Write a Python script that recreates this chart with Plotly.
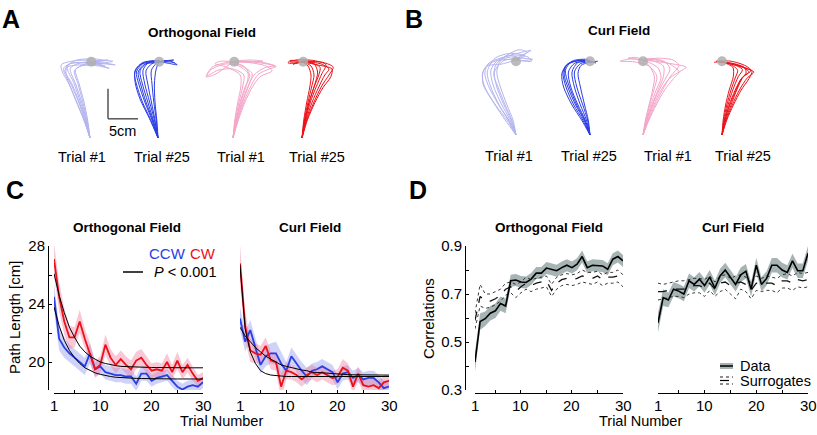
import plotly.graph_objects as go

W, H = 817, 435
FONT = "Arial, Liberation Sans, sans-serif"

# ---------------- data ----------------
TRIALS = list(range(1, 31))
X_TICKS = [1, 5, 10, 15, 20, 25, 30]
X_TICKTEXT = ["1", "", "10", "", "20", "", "30"]
C_YTICKS = [20, 22, 24, 26, 28]
C_YTICKTEXT = ["20", "", "24", "", "28"]
D_YTICKS = [0.3, 0.4, 0.5, 0.6, 0.7, 0.8, 0.9]
D_YTICKTEXT = ["0.3", "", "0.5", "", "0.7", "", "0.9"]

# Panel C: path length [cm]
C_ORTH_CW = [27.1, 24.5, 22.8, 21.7, 21.7, 22.8, 21.6, 20.6, 19.5, 19.8, 21.2, 20.3, 19.8, 20.2, 19.8,
             19.5, 20.1, 20.3, 19.8, 19.4, 19.5, 19.4, 20.0, 19.3, 20.1, 19.3, 19.8, 19.2, 18.7, 18.9]
C_ORTH_CW_SEM = [1.1, 1.0, 0.9, 0.8, 0.7, 0.8, 0.7, 0.7, 0.6, 0.6, 0.7, 0.6, 0.6, 0.6, 0.6,
                 0.6, 0.6, 0.6, 0.6, 0.5, 0.5, 0.5, 0.6, 0.5, 0.6, 0.5, 0.5, 0.5, 0.4, 0.4]
C_ORTH_CCW = [24.5, 21.6, 21.0, 20.6, 20.3, 20.0, 19.7, 20.6, 19.5, 19.7, 19.3, 19.2, 19.1, 19.1, 19.0,
              19.0, 18.5, 19.2, 19.2, 18.7, 18.9, 19.0, 19.1, 18.7, 18.3, 18.1, 18.3, 18.4, 18.3, 18.6]
C_ORTH_CCW_SEM = [0.9, 0.8, 0.7, 0.6, 0.6, 0.6, 0.6, 0.7, 0.5, 0.5, 0.5, 0.5, 0.5, 0.5, 0.5,
                  0.5, 0.5, 0.5, 0.5, 0.4, 0.4, 0.4, 0.4, 0.4, 0.4, 0.4, 0.4, 0.4, 0.4, 0.4]
C_ORTH_CW_FIT = [26.1, 24.6, 23.4, 22.4, 21.7, 21.1, 20.7, 20.4, 20.2, 20.0, 19.9, 19.8, 19.75, 19.7, 19.68,
                 19.66, 19.65, 19.64, 19.63, 19.62, 19.62, 19.61, 19.61, 19.61, 19.6, 19.6, 19.6, 19.6, 19.6, 19.6]
C_ORTH_CCW_FIT = [23.8, 22.5, 21.5, 20.8, 20.3, 19.9, 19.6, 19.4, 19.25, 19.15, 19.05, 19.0, 18.95, 18.92, 18.9,
                  18.88, 18.87, 18.86, 18.85, 18.85, 18.84, 18.84, 18.84, 18.83, 18.83, 18.83, 18.83, 18.83, 18.83, 18.83]

C_CURL_CW = [26.8, 22.5, 20.8, 20.6, 20.5, 21.1, 20.1, 20.0, 18.3, 19.4, 19.3, 19.1, 18.8, 19.1, 19.3,
             19.1, 19.3, 19.1, 18.9, 19.0, 19.6, 19.4, 18.3, 19.2, 18.4, 18.3, 18.4, 18.2, 18.6, 18.7]
C_CURL_CW_SEM = [1.3, 1.0, 0.8, 0.7, 0.6, 0.6, 0.6, 0.6, 0.9, 0.6, 0.5, 0.5, 0.5, 0.5, 0.5,
                 0.5, 0.5, 0.5, 0.5, 0.5, 0.6, 0.5, 0.5, 0.5, 0.5, 0.5, 0.5, 0.5, 0.5, 0.4]
C_CURL_CCW = [23.0, 21.4, 22.2, 21.0, 19.8, 20.4, 20.6, 20.6, 19.9, 19.4, 20.4, 19.9, 19.4, 19.0, 19.4,
              19.5, 19.7, 19.5, 19.3, 18.6, 19.2, 19.3, 18.9, 19.1, 18.8, 18.9, 18.9, 18.6, 18.2, 18.3]
C_CURL_CCW_SEM = [0.8, 0.7, 0.7, 0.7, 0.6, 0.7, 0.7, 0.8, 0.8, 0.6, 0.6, 0.6, 0.6, 0.6, 0.5,
                  0.5, 0.5, 0.5, 0.5, 0.5, 0.5, 0.5, 0.5, 0.5, 0.5, 0.5, 0.5, 0.5, 0.5, 0.5]
C_CURL_CW_FIT = [26.7, 22.3, 20.7, 19.9, 19.4, 19.2, 19.1, 19.05, 19.02, 19.0, 19.0, 19.0, 19.0, 19.0, 19.0,
                 19.0, 19.0, 19.0, 19.0, 19.0, 19.0, 19.0, 19.0, 19.0, 19.0, 19.0, 19.0, 19.0, 19.0, 19.0]
C_CURL_CCW_FIT = [22.4, 21.8, 21.4, 21.0, 20.7, 20.4, 20.2, 20.0, 19.8, 19.7, 19.6, 19.5, 19.45, 19.4, 19.3,
                  19.28, 19.25, 19.22, 19.2, 19.15, 19.14, 19.13, 19.12, 19.11, 19.1, 19.1, 19.1, 19.1, 19.1, 19.1]

# Panel D: correlations
D_ORTH = [0.417, 0.585, 0.597, 0.62, 0.63, 0.66, 0.65, 0.755, 0.758, 0.75, 0.748, 0.762, 0.787, 0.787, 0.808,
          0.803, 0.797, 0.81, 0.82, 0.81, 0.824, 0.856, 0.81, 0.82, 0.82, 0.817, 0.803, 0.845, 0.856, 0.838]
D_ORTH_SEM = [0.04, 0.035, 0.03, 0.03, 0.03, 0.03, 0.03, 0.025, 0.025, 0.025, 0.025, 0.025, 0.025, 0.025, 0.025,
              0.025, 0.025, 0.025, 0.025, 0.025, 0.025, 0.025, 0.025, 0.025, 0.025, 0.025, 0.025, 0.025, 0.025, 0.025]
D_ORTH_SUR_HI = [0.62, 0.74, 0.70, 0.70, 0.71, 0.72, 0.745, 0.75, 0.74, 0.75, 0.77, 0.76, 0.765, 0.77, 0.775,
                 0.74, 0.77, 0.78, 0.785, 0.78, 0.785, 0.80, 0.79, 0.79, 0.795, 0.78, 0.79, 0.79, 0.80, 0.78]
D_ORTH_SUR_MID = [0.59, 0.69, 0.67, 0.67, 0.68, 0.695, 0.72, 0.73, 0.71, 0.73, 0.745, 0.735, 0.745, 0.75, 0.755,
                  0.715, 0.745, 0.76, 0.765, 0.76, 0.765, 0.775, 0.77, 0.765, 0.775, 0.76, 0.77, 0.77, 0.775, 0.755]
D_ORTH_SUR_LO = [0.555, 0.65, 0.64, 0.645, 0.655, 0.67, 0.695, 0.705, 0.685, 0.705, 0.72, 0.71, 0.72, 0.725, 0.73,
                 0.69, 0.72, 0.735, 0.74, 0.735, 0.74, 0.75, 0.745, 0.74, 0.75, 0.735, 0.745, 0.745, 0.75, 0.73]

D_CURL = [0.58, 0.685, 0.675, 0.72, 0.712, 0.70, 0.755, 0.74, 0.762, 0.735, 0.77, 0.725, 0.775, 0.80, 0.77,
          0.74, 0.78, 0.795, 0.72, 0.82, 0.74, 0.765, 0.82, 0.82, 0.80, 0.79, 0.838, 0.797, 0.797, 0.87]
D_CURL_SEM = [0.04, 0.035, 0.03, 0.03, 0.03, 0.03, 0.03, 0.03, 0.03, 0.03, 0.03, 0.03, 0.03, 0.03, 0.03,
              0.03, 0.03, 0.03, 0.03, 0.03, 0.03, 0.03, 0.03, 0.03, 0.03, 0.03, 0.03, 0.03, 0.03, 0.03]
D_CURL_SUR_HI = [0.745, 0.74, 0.745, 0.75, 0.755, 0.755, 0.76, 0.765, 0.765, 0.76, 0.775, 0.75, 0.775, 0.78, 0.765,
                 0.775, 0.78, 0.77, 0.745, 0.775, 0.765, 0.775, 0.77, 0.765, 0.78, 0.785, 0.775, 0.79, 0.785, 0.79]
D_CURL_SUR_MID = [0.71, 0.71, 0.715, 0.72, 0.72, 0.72, 0.73, 0.735, 0.735, 0.725, 0.745, 0.72, 0.745, 0.75, 0.735,
                  0.745, 0.75, 0.74, 0.715, 0.745, 0.74, 0.745, 0.745, 0.735, 0.755, 0.755, 0.745, 0.76, 0.755, 0.76]
D_CURL_SUR_LO = [0.675, 0.68, 0.685, 0.69, 0.69, 0.685, 0.70, 0.705, 0.705, 0.69, 0.715, 0.69, 0.71, 0.72, 0.70,
                 0.68, 0.72, 0.71, 0.68, 0.715, 0.71, 0.715, 0.715, 0.705, 0.725, 0.725, 0.715, 0.73, 0.725, 0.73]

# Panels A/B: hand trajectories in cm (start at origin)
A_CCW_T1 = [
    [(0, 0), (-0.8, 3), (-1.8, 6), (-3, 9), (-4.2, 11.3), (-3.5, 12.3), (-1, 12.6), (2, 12.4), (4.2, 12.2), (1.5, 12.6), (0, 12.7)],
    [(0, 0), (-0.6, 3), (-1.4, 6), (-2.4, 9), (-3.3, 11.6), (-2, 12.4), (0.5, 12.8), (3, 13.0), (0.8, 12.8), (0, 12.7)],
    [(0, 0), (-1, 3), (-2.2, 6), (-3.5, 9), (-4.6, 11), (-4.8, 12.2), (-3, 12.8), (0, 12.9), (0, 12.7)],
    [(0, 0), (-0.5, 3), (-1.2, 6), (-2, 9), (-2.6, 11.2), (-1.5, 12), (1, 12.3), (3.8, 12.8), (2, 12.9), (0, 12.7)],
    [(0, 0), (-0.9, 3), (-1.9, 6), (-3.1, 8.8), (-4, 10.8), (-3.8, 11.8), (-1.5, 12.2), (1.5, 12.0), (3.2, 11.6), (1, 12.4), (0, 12.7)],
    [(0, 0), (-0.7, 3), (-1.6, 6), (-2.7, 9.2), (-3.8, 11.8), (-2.5, 12.9), (0.5, 13.2), (2.5, 12.9), (0, 12.7)],
    [(0, 0), (-1.1, 3.2), (-2.4, 6.3), (-3.6, 9.4), (-4.4, 11.6), (-3, 12.5), (0, 12.4), (2.5, 12.0), (0.5, 12.6), (0, 12.7)],
    [(0, 0), (-0.4, 3), (-1, 6), (-1.8, 9), (-2.4, 11.4), (-0.8, 12.3), (1.5, 12.6), (0, 12.7)],
]
A_CCW_T25 = [
    [(0, 0), (-1, 3), (-2.2, 6), (-3.2, 9), (-3.6, 11), (-2.5, 12.4), (0.3, 12.8)],
    [(0, 0), (-0.8, 3), (-1.7, 6), (-2.6, 9), (-3, 11.2), (-1.8, 12.5), (0.3, 12.7)],
    [(0, 0), (-0.5, 3), (-1.1, 6), (-1.7, 9), (-2, 11.2), (-1, 12.4), (0.3, 12.7), (2.5, 12.6), (3.2, 12.2), (1.5, 12.5), (0.3, 12.7)],
    [(0, 0), (-1.2, 3), (-2.6, 6), (-3.6, 9), (-3.9, 10.8), (-3, 12.2), (-0.5, 12.9), (0.3, 12.7)],
    [(0, 0), (-0.3, 3), (-0.7, 6), (-1, 9), (-1.1, 11.3), (-0.2, 12.5), (0.3, 12.7)],
    [(0, 0), (-0.9, 3), (-2, 6), (-2.9, 9), (-3.3, 11), (-2.2, 12.3), (0, 12.6), (2.6, 13), (0.5, 12.8)],
    [(0, 0), (-0.6, 3), (-1.4, 6), (-2.2, 9), (-2.5, 11.3), (-1.5, 12.6), (0.3, 12.7)],
    [(0, 0), (-1.4, 3.2), (-3, 6.5), (-3.8, 9.2), (-3.8, 11.3), (-2.5, 12.6), (0.3, 12.9)],
    [(0, 0), (-0.2, 3), (-0.5, 6), (-0.6, 9), (-0.3, 11.5), (0.3, 12.7), (1.8, 12.9), (2.8, 12.5)],
]
A_CW_T1 = [
    [(0, 0), (0.6, 3), (1.5, 6), (2.5, 8.5), (3.5, 10.5), (5.5, 11.8), (7, 12), (4, 12.6), (0, 12.7)],
    [(0, 0), (0.5, 3), (1.2, 6), (2, 8.5), (2.8, 10.3), (2, 11.8), (0, 12.7)],
    [(0, 0), (0.8, 3), (1.8, 6), (3, 8.7), (4.2, 10.6), (6, 11.5), (7.2, 11.9), (5, 12.6), (1, 12.8), (0, 12.7)],
    [(0, 0), (0.4, 3), (1, 6), (1.6, 8.5), (1.8, 10.5), (0, 11.5), (-2.5, 11.3), (-4.3, 10.4), (-3.5, 11.8), (-1, 12.6), (0, 12.7)],
    [(0, 0), (0.7, 3), (1.6, 6), (2.6, 8.8), (3.2, 10.7), (1.5, 12), (0, 12.7), (3, 13), (5, 12.8), (2, 12.7), (0, 12.7)],
    [(0, 0), (0.3, 3), (0.8, 6), (1.3, 8.5), (1.2, 10.5), (-1, 11.8), (-3, 12.4), (-2, 12.8), (0, 12.7)],
    [(0, 0), (0.9, 3), (2, 6), (3.3, 8.6), (4.5, 10.2), (6.5, 11.2), (5.5, 12), (2.5, 12.6), (0, 12.7)],
    [(0, 0), (0.5, 3), (1.3, 6), (2.2, 8.7), (2.5, 10.8), (0.5, 12.2), (-1.5, 12.3), (-3.8, 11.3), (-4.5, 10.2), (-3, 10.6), (0, 12.7)],
]
A_CW_T25 = [
    [(0, 0), (0.5, 3), (1.2, 6), (2, 8.5), (2.8, 10.5), (3, 11.8), (1.5, 12.5), (0, 12.7)],
    [(0, 0), (0.7, 3), (1.7, 6), (2.8, 8.5), (3.8, 10.5), (4.5, 11.5), (3, 12.4), (0, 12.7)],
    [(0, 0), (0.4, 3), (1, 6), (1.6, 8.5), (2, 10.5), (1.5, 12), (0, 12.7), (-2, 12.9), (-2.3, 12.5), (0, 12.6)],
    [(0, 0), (0.8, 3), (2, 6), (3.3, 8.7), (4.5, 10.5), (5.2, 11.8), (3.5, 12.6), (0, 12.8)],
    [(0, 0), (0.3, 3), (0.8, 6), (1.3, 8.5), (1.5, 10.5), (1, 12), (0, 12.7)],
    [(0, 0), (0.6, 3), (1.4, 6), (2.4, 8.6), (3.3, 10.7), (4, 12.2), (2, 12.9), (-1, 13), (-2, 12.7), (0, 12.7)],
    [(0, 0), (0.9, 3), (2.2, 6), (3.5, 8.4), (4.8, 10.2), (5, 11.5), (2.5, 12.2), (0, 12.7)],
    [(0, 0), (0.5, 3), (1.2, 6), (2.1, 8.8), (2.6, 11), (2, 12.4), (0.5, 12.9), (-1.5, 12.3), (0, 12.7)],
]
B_CCW_T1 = [
    [(0, 0), (-1.2, 2.5), (-2.8, 5), (-4.2, 8), (-4.8, 10.5), (-3.5, 12.8), (-1, 13.6), (1.5, 13.2), (0, 12.5)],
    [(0, 0), (-0.8, 2.5), (-2, 5), (-3.2, 8), (-3.6, 10.5), (-2.2, 12.3), (0.5, 12.8), (2.8, 12.6), (1, 12.4), (0, 12.5)],
    [(0, 0), (-1.5, 2.5), (-3.4, 5), (-5.2, 8), (-5.6, 10.2), (-4.5, 12), (-2, 13), (1, 13.8), (2.5, 14.1), (0.5, 13), (0, 12.5)],
    [(0, 0), (-0.5, 2.5), (-1.5, 5), (-2.6, 8), (-3.2, 10.5), (-2.5, 12.5), (0, 13), (0, 12.5)],
    [(0, 0), (-1, 2.5), (-2.5, 5.3), (-3.8, 8.3), (-4.2, 10.8), (-3, 12.5), (-0.5, 13.3), (2, 13.0), (2.6, 12.3), (0, 12.5)],
    [(0, 0), (-1.8, 2.5), (-3.8, 5.5), (-5.5, 8.5), (-5.4, 10.8), (-3.8, 12.2), (-1.5, 12.6), (0, 12.5)],
    [(0, 0), (-0.7, 2.5), (-1.8, 5), (-3, 8), (-3.7, 10), (-3.3, 11.8), (-1.5, 13.3), (0.5, 14.2), (1.8, 13.8), (0, 12.5)],
    [(0, 0), (-1.3, 2.5), (-3, 5.2), (-4.6, 8.2), (-5.2, 10.2), (-4.8, 11.5), (-2.5, 11.8), (0, 12.5)],
]
B_CCW_T25 = [
    [(0, 0), (-0.8, 2.5), (-2, 5), (-3.2, 8), (-3.6, 10.5), (-2.5, 12), (0.3, 12.2)],
    [(0, 0), (-1.2, 2.5), (-2.7, 5), (-4, 8), (-4.5, 10.5), (-3.5, 12), (-1, 12.4), (0.3, 12.2)],
    [(0, 0), (-0.4, 2.5), (-1.2, 5), (-2.2, 8), (-2.6, 10.5), (-1.6, 11.9), (0.3, 12.2), (1.3, 12.3)],
    [(0, 0), (-1, 2.5), (-2.4, 5), (-3.7, 8), (-4.3, 10), (-4, 11.5), (-2, 12.4), (0.3, 12.2)],
    [(0, 0), (-0.6, 2.5), (-1.6, 5), (-2.6, 8), (-3, 10.5), (-2, 12.1), (0.3, 12.2)],
    [(0, 0), (-1.4, 2.5), (-3, 5), (-4.4, 8), (-4.7, 10.2), (-3.8, 11.8), (-1.5, 12.5), (0.3, 12.2), (1, 12)],
    [(0, 0), (-0.3, 2.5), (-0.9, 5), (-1.6, 8), (-2, 10.3), (-1.5, 11.6), (0.3, 12.2)],
    [(0, 0), (-0.9, 2.5), (-2.2, 5), (-3.5, 8.2), (-4.1, 10.8), (-3, 12.3), (-0.5, 12.6), (0.3, 12.2)],
]
B_CW_T1 = [
    [(0, 0), (0.8, 2.5), (1.8, 5), (3, 7.5), (4.5, 9.5), (6.5, 10.8), (7.2, 11.3), (4, 12), (0, 12.5)],
    [(0, 0), (0.6, 2.5), (1.3, 5), (2.2, 7.5), (3, 9.5), (2.5, 11.2), (0, 12.5)],
    [(0, 0), (1, 2.5), (2.2, 5), (3.6, 7.5), (5, 9.3), (6, 10.5), (4.5, 11.8), (1.5, 12.6), (0, 12.5)],
    [(0, 0), (0.5, 2.5), (1.1, 5), (1.8, 7.5), (2.3, 9.8), (1, 11.5), (-1.5, 12.2), (-3.8, 12.3), (-2, 12.7), (0, 12.5)],
    [(0, 0), (0.7, 2.5), (1.6, 5), (2.7, 7.5), (3.8, 9.5), (4.5, 11), (3.5, 12.3), (0.5, 12.7), (0, 12.5)],
    [(0, 0), (0.9, 2.5), (2, 5), (3.3, 7.6), (4.6, 9.8), (6, 11.6), (5, 12.5), (2.5, 12.8), (0, 12.5)],
    [(0, 0), (0.4, 2.5), (1, 5), (1.6, 7.5), (1.9, 9.8), (0.8, 11.8), (-1, 12.9), (-2.5, 12.8), (0, 12.5)],
    [(0, 0), (0.6, 2.5), (1.5, 5), (2.5, 7.5), (3.4, 9.7), (3.4, 11.5), (1.5, 12.4), (0, 12.5)],
]
B_CW_T25 = [
    [(0, 0), (0.5, 2.5), (1.2, 5), (2.2, 7.5), (3.3, 9.5), (4.5, 10.5), (3, 11.5), (0.5, 12.1), (-0.5, 12.2)],
    [(0, 0), (0.7, 2.5), (1.7, 5), (2.9, 7.5), (4.2, 9.5), (5.3, 10.5), (3.5, 11.3), (1, 12), (-0.5, 12.2)],
    [(0, 0), (0.3, 2.5), (0.8, 5), (1.5, 7.5), (2.2, 9.5), (2.6, 10.8), (1.2, 11.9), (-0.5, 12.2), (-1.3, 12.1)],
    [(0, 0), (0.6, 2.5), (1.5, 5), (2.5, 7.6), (3.6, 9.8), (4.8, 10.7), (2.5, 11.6), (-0.5, 12.2)],
    [(0, 0), (0.4, 2.5), (1, 5), (1.8, 7.5), (2.7, 9.7), (3.4, 10.9), (1.5, 11.9), (-0.5, 12.2)],
    [(0, 0), (0.8, 2.5), (1.9, 5), (3.2, 7.5), (4.5, 9.4), (5, 10.6), (4, 11.5), (1.5, 12.3), (-1, 12.3)],
    [(0, 0), (0.2, 2.5), (0.6, 5), (1.2, 7.5), (1.9, 9.8), (1.8, 11.3), (0.2, 12.1), (-0.5, 12.2)],
    [(0, 0), (0.5, 2.5), (1.3, 5), (2.3, 7.4), (3.1, 9.2), (4, 10.3), (3.8, 11.2), (2, 11.9), (-0.5, 12.2)],
]
A_TARGET = (0.2, 12.7)
B_TARGET = (0.0, 12.3)
SCALE_CM = 5

# ---------------- styling ----------------
LAV = "#b4b4f0"
BLUE = "#2a3de6"
PINK = "#f4a5c8"
RED = "#ec1018"
BLUE_BAND = "rgba(120,130,235,0.35)"
RED_BAND = "rgba(240,110,150,0.38)"
GREY_BAND = "rgba(130,148,148,0.7)"
PX_PER_CM = 6.0

fig = go.Figure()
layout = dict(width=W, height=H, margin=dict(l=0, r=0, t=0, b=0, autoexpand=False),
              paper_bgcolor="white", plot_bgcolor="rgba(0,0,0,0)",
              showlegend=False, font=dict(family=FONT, size=15, color="black"))

def px2x(px):
    return px / W

def px2y(py):
    return 1 - py / H

bundles = [
    (A_CCW_T1, LAV, A_TARGET, 90, 138),
    (A_CCW_T25, BLUE, A_TARGET, 158, 138),
    (A_CW_T1, PINK, A_TARGET, 233, 138),
    (A_CW_T25, RED, A_TARGET, 302, 138),
    (B_CCW_T1, LAV, B_TARGET, 516, 135),
    (B_CCW_T25, BLUE, B_TARGET, 590, 135),
    (B_CW_T1, PINK, B_TARGET, 643, 135),
    (B_CW_T25, RED, B_TARGET, 722, 135),
]
HALF_W = 9.0  # cm
for i, (trajs, col, tgt, sx, sy) in enumerate(bundles, start=1):
    xs, ys = [], []
    for tr in trajs:
        xs += [p[0] for p in tr] + [None]
        ys += [p[1] for p in tr] + [None]
    xa = "x" if i == 1 else f"x{i}"
    ya = "y" if i == 1 else f"y{i}"
    fig.add_trace(go.Scatter(x=xs, y=ys, mode="lines", line=dict(color=col, width=1, shape="spline", smoothing=0.8),
                             xaxis=xa, yaxis=ya, hoverinfo="skip"))
    fig.add_trace(go.Scatter(x=[tgt[0]], y=[tgt[1]], mode="markers",
                             marker=dict(size=10, color="rgba(175,175,175,0.85)", line=dict(width=0)),
                             xaxis=xa, yaxis=ya, hoverinfo="skip"))
    wpx = HALF_W * PX_PER_CM
    key = "" if i == 1 else str(i)
    layout["xaxis" + key] = dict(domain=[px2x(sx - wpx), px2x(sx + wpx)], range=[-HALF_W, HALF_W], visible=False,
                                 anchor=ya, automargin=False)
    layout["yaxis" + key] = dict(domain=[px2y(sy + 8), px2y(sy - 100)], range=[-8 / PX_PER_CM, 100 / PX_PER_CM],
                                 visible=False, anchor=xa, automargin=False)

# scale bar in A (bundle 1 axes, cm)
sb_x0, sb_y0 = 3.0, 3.2
shapes = [
    dict(type="line", xref="x", yref="y", x0=sb_x0, y0=sb_y0, x1=sb_x0, y1=sb_y0 + SCALE_CM,
         line=dict(color="#555555", width=1.5)),
    dict(type="line", xref="x", yref="y", x0=sb_x0, y0=sb_y0, x1=sb_x0 + SCALE_CM, y1=sb_y0,
         line=dict(color="#555555", width=1.5)),
]

# ---------------- panels C and D ----------------
def band(x, y, s, color, xa, ya):
    up = [a + b for a, b in zip(y, s)]
    lo = [a - b for a, b in zip(y, s)]
    fig.add_trace(go.Scatter(x=x + x[::-1], y=up + lo[::-1], fill="toself", fillcolor=color,
                             line=dict(width=0), mode="lines", xaxis=xa, yaxis=ya, hoverinfo="skip"))

def line(x, y, color, width, xa, ya, dash="solid"):
    fig.add_trace(go.Scatter(x=x, y=y, mode="lines", line=dict(color=color, width=width, dash=dash),
                             xaxis=xa, yaxis=ya, hoverinfo="skip"))

for (cw, cws, ccw, ccws, cwfit, ccwfit, k) in [
    (C_ORTH_CW, C_ORTH_CW_SEM, C_ORTH_CCW, C_ORTH_CCW_SEM, C_ORTH_CW_FIT, C_ORTH_CCW_FIT, 9),
    (C_CURL_CW, C_CURL_CW_SEM, C_CURL_CCW, C_CURL_CCW_SEM, C_CURL_CW_FIT, C_CURL_CCW_FIT, 10),
]:
    xa, ya = f"x{k}", f"y{k}"
    band(TRIALS, ccw, ccws, BLUE_BAND, xa, ya)
    band(TRIALS, cw, cws, RED_BAND, xa, ya)
    line(TRIALS, ccw, BLUE, 1.8, xa, ya)
    line(TRIALS, cw, RED, 1.8, xa, ya)
    line(TRIALS, cwfit, "black", 1, xa, ya)
    line(TRIALS, ccwfit, "black", 1, xa, ya)

for (d, ds, hi, mid, lo, k) in [
    (D_ORTH, D_ORTH_SEM, D_ORTH_SUR_HI, D_ORTH_SUR_MID, D_ORTH_SUR_LO, 11),
    (D_CURL, D_CURL_SEM, D_CURL_SUR_HI, D_CURL_SUR_MID, D_CURL_SUR_LO, 12),
]:
    xa, ya = f"x{k}", f"y{k}"
    band(TRIALS, d, ds, GREY_BAND, xa, ya)
    line(TRIALS, hi, "#222222", 0.9, xa, ya, "dot")
    line(TRIALS, lo, "#222222", 0.9, xa, ya, "dot")
    line(TRIALS, mid, "#111111", 1.3, xa, ya, "dash")
    line(TRIALS, d, "black", 1.6, xa, ya)

X_AXIS_Y = 393
X_LABEL_Y = 405

def xaxis_cfg(x0px, x1px):
    return dict(domain=[px2x(x0px), px2x(x1px)], range=[1, 30], anchor="free", position=px2y(X_AXIS_Y),
                showline=True, linecolor="black", linewidth=1, ticks="inside", ticklen=3, tickcolor="black",
                tickvals=X_TICKS, showticklabels=False, showgrid=False, zeroline=False, automargin=False)

def yaxis_cfg(y0px, y1px, rng, xpx, tickvals, ticktext, visible=True):
    return dict(domain=[px2y(y1px), px2y(y0px)], range=rng, anchor="free", position=px2x(xpx),
                showline=visible, showticklabels=visible, linecolor="black", linewidth=1,
                ticks="inside" if visible else "", ticklen=3, tickcolor="black", automargin=False,
                tickvals=tickvals, ticktext=ticktext, showgrid=False, zeroline=False,
                tickfont=dict(size=15, family=FONT, color="black"))

C_YRANGE = [18.07, 28]
D_YRANGE = [0.3, 0.9]
layout["xaxis9"] = xaxis_cfg(54, 203)
layout["yaxis9"] = yaxis_cfg(246, 390, C_YRANGE, 48, C_YTICKS, C_YTICKTEXT)
layout["xaxis10"] = xaxis_cfg(240, 389)
layout["yaxis10"] = yaxis_cfg(246, 390, C_YRANGE, 240, C_YTICKS, C_YTICKTEXT, visible=False)
layout["xaxis11"] = xaxis_cfg(475, 623)
layout["yaxis11"] = yaxis_cfg(246, 390, D_YRANGE, 465, D_YTICKS, D_YTICKTEXT)
layout["xaxis12"] = xaxis_cfg(658, 808)
layout["yaxis12"] = yaxis_cfg(246, 390, D_YRANGE, 658, D_YTICKS, D_YTICKTEXT, visible=False)

# ---------------- text ----------------
ann = []
def text(t, x, y, size=15, bold=False, color="black", angle=0, xanchor="center"):
    ann.append(dict(text=f"<b>{t}</b>" if bold else t, x=px2x(x), y=px2y(y), xref="paper", yref="paper",
                    showarrow=False, xanchor=xanchor, yanchor="middle", textangle=angle,
                    font=dict(size=size, family=FONT, color=color)))

# x tick labels placed through each axis' own scale
for k in (9, 10, 11, 12):
    for tv, tt in zip(X_TICKS, X_TICKTEXT):
        if tt:
            ann.append(dict(text=tt, x=tv, xref=f"x{k}", y=px2y(X_LABEL_Y), yref="paper", showarrow=False,
                            xanchor="center", yanchor="middle", font=dict(size=15, family=FONT, color="black")))

text("A", 11, 19, 25, True)
text("B", 414, 19, 25, True)
text("C", 15, 190, 25, True)
text("D", 418, 190, 25, True)
text("Orthogonal Field", 202, 32, 13.5, True)
text("Curl Field", 619, 30, 13.5, True)
for lbl, xx in [("Trial #1", 82), ("Trial #25", 162), ("Trial #1", 241), ("Trial #25", 317)]:
    text(lbl, xx, 157, 14.5)
for lbl, xx in [("Trial #1", 509), ("Trial #25", 589), ("Trial #1", 668), ("Trial #25", 743)]:
    text(lbl, xx, 156, 14.5)
text("5cm", 123, 131, 14.5)

text("Orthogonal Field", 127, 227, 13.5, True)
text("Curl Field", 310, 227, 13.5, True)
text("Orthogonal Field", 549, 227, 13.5, True)
text("Curl Field", 733, 227, 13.5, True)
text("Path Length [cm]", 14, 318, 15, angle=-90)
text("Correlations", 428, 318, 15, angle=-90)
text("Trial Number", 221, 421, 14.5)
text("Trial Number", 640, 421, 14.5)
text("CCW", 147, 253, 15, color=BLUE, xanchor="left")
text("CW", 188, 253, 15, color=RED, xanchor="left")
text("<i>P</i> &lt; 0.001", 152, 272, 14.5, xanchor="left")
shapes.append(dict(type="line", xref="paper", yref="paper", x0=px2x(123), x1=px2x(143), y0=px2y(272), y1=px2y(272),
                   line=dict(color="black", width=1.5)))
# D legend
text("Data", 738, 366, 14.5, xanchor="left")
text("Surrogates", 738, 381, 14.5, xanchor="left")
shapes.append(dict(type="rect", xref="paper", yref="paper", x0=px2x(720), x1=px2x(733), y0=px2y(369), y1=px2y(363),
                   fillcolor=GREY_BAND, line=dict(width=0)))
shapes.append(dict(type="line", xref="paper", yref="paper", x0=px2x(720), x1=px2x(733), y0=px2y(366), y1=px2y(366),
                   line=dict(color="black", width=1.5)))
for yy, wd, ds in [(377, 0.9, "dot"), (380.5, 1.2, "dash"), (384, 0.9, "dot")]:
    shapes.append(dict(type="line", xref="paper", yref="paper", x0=px2x(720), x1=px2x(733), y0=px2y(yy), y1=px2y(yy),
                       line=dict(color="black", width=wd, dash=ds)))

layout["annotations"] = ann
layout["shapes"] = shapes
fig.update_layout(**layout)
fig.write_html("out.html", config={"displayModeBar": False, "staticPlot": True},
               post_script="document.body.style.margin='0';document.body.style.overflow='hidden';")
